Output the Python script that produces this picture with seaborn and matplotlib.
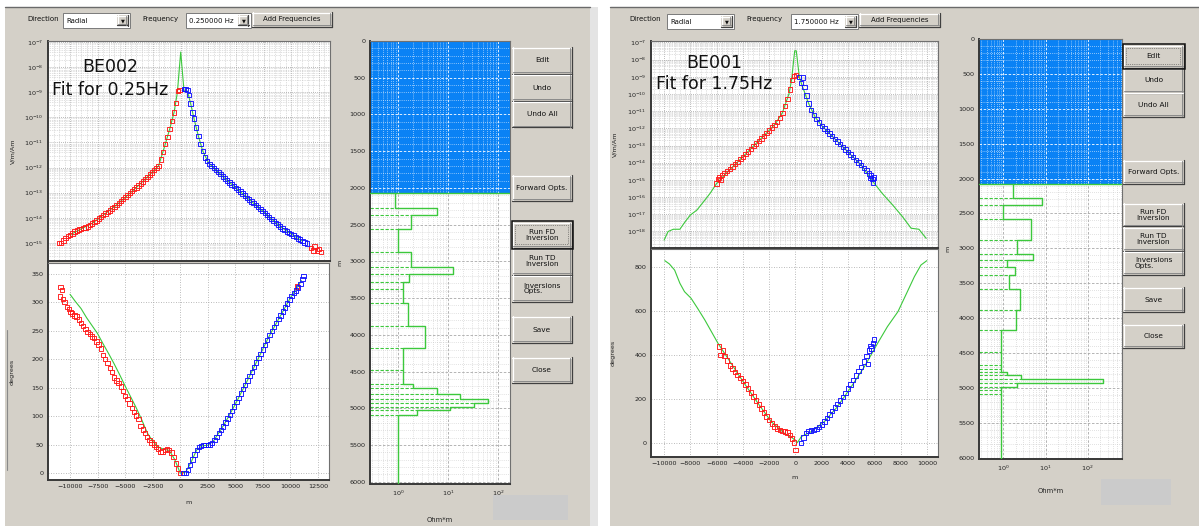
import numpy as np
import matplotlib
matplotlib.use("Agg")
import matplotlib.pyplot as plt
import seaborn as sns
from matplotlib.patches import Rectangle
from matplotlib.lines import Line2D
from matplotlib.ticker import (MultipleLocator, AutoMinorLocator, LogLocator,
                               LogFormatterSciNotation, NullFormatter)

# ======================= DATA =======================
# ---- BE002, 0.25 Hz (left window) ----
# amplitude: (offset m, log10 V/m/Am)
be002_amp_red = [(-11000, -15.0), (-10800, -15.0), (-10600, -14.9), (-10400, -14.8), (-10200, -14.72),
                 (-10000, -14.68), (-9800, -14.62), (-9600, -14.55), (-9400, -14.5), (-9200, -14.47),
                 (-9000, -14.44), (-8800, -14.41), (-8600, -14.38), (-8400, -14.34), (-8200, -14.28),
                 (-8000, -14.22), (-7800, -14.16), (-7600, -14.1), (-7400, -14.03), (-7200, -13.96),
                 (-7000, -13.89), (-6800, -13.83), (-6600, -13.77), (-6400, -13.71), (-6200, -13.63),
                 (-6000, -13.56), (-5800, -13.48), (-5600, -13.41), (-5400, -13.33), (-5200, -13.26),
                 (-5000, -13.18), (-4800, -13.1), (-4600, -13.02), (-4400, -12.94), (-4200, -12.86),
                 (-4000, -12.79), (-3800, -12.72), (-3600, -12.64), (-3400, -12.55), (-3200, -12.46),
                 (-3000, -12.37), (-2800, -12.28), (-2600, -12.19), (-2400, -12.1), (-2200, -12.02),
                 (-2000, -11.93), (-1800, -11.68), (-1600, -11.38), (-1400, -11.05), (-1200, -10.78),
                 (-1000, -10.47), (-800, -10.15), (-600, -9.8), (-400, -9.42), (-250, -8.95), (-100, -8.9),
                 (11800, -15.2), (12000, -15.3), (12100, -15.15), (12300, -15.3), (12500, -15.25), (12700, -15.35)]
be002_amp_blue = [(300, -8.88), (450, -8.87), (600, -8.9), (750, -9.1), (900, -9.45), (1050, -9.8),
                  (1200, -10.05), (1400, -10.4), (1600, -10.75), (1800, -11.05), (2000, -11.35), (2200, -11.6),
                  (2400, -11.75), (2600, -11.85), (2800, -11.93), (3000, -12.02), (3200, -12.1), (3400, -12.17),
                  (3600, -12.26), (3800, -12.35), (4000, -12.44), (4200, -12.52), (4400, -12.6), (4600, -12.67),
                  (4800, -12.74), (5000, -12.81), (5200, -12.88), (5400, -12.95), (5600, -13.03), (5800, -13.11),
                  (6000, -13.2), (6200, -13.27), (6400, -13.35), (6600, -13.42), (6800, -13.5), (7000, -13.57),
                  (7200, -13.65), (7400, -13.72), (7600, -13.8), (7800, -13.88), (8000, -13.96), (8200, -14.04),
                  (8400, -14.12), (8600, -14.2), (8800, -14.27), (9000, -14.35), (9200, -14.42), (9400, -14.48),
                  (9600, -14.54), (9800, -14.6), (10000, -14.65), (10200, -14.7), (10400, -14.76), (10600, -14.82),
                  (10800, -14.87), (11000, -14.93), (11200, -14.98), (11400, -15.02)]
be002_amp_fit = [(-10000, -14.68), (-9000, -14.44), (-8000, -14.22), (-7000, -13.89), (-6000, -13.56),
                 (-5000, -13.18), (-4000, -12.79), (-3000, -12.37), (-2000, -11.93), (-1500, -11.22),
                 (-1000, -10.47), (-600, -9.8), (-300, -9.0), (0, -7.4), (300, -8.95), (600, -8.95),
                 (900, -9.45), (1200, -10.05), (1600, -10.75), (2000, -11.35), (2500, -11.8), (3000, -12.02),
                 (4000, -12.44), (5000, -12.81), (6000, -13.2), (7000, -13.57), (8000, -13.96), (9000, -14.35),
                 (10000, -14.65), (11000, -14.93)]
# phase: (offset m, degrees)
be002_phase_red = [(-10900, 310), (-10850, 327), (-10750, 322), (-10650, 306), (-10500, 300), (-10250, 292),
                   (-10100, 288), (-9950, 283), (-9800, 280), (-9600, 277), (-9400, 275), (-9200, 270),
                   (-9000, 264), (-8800, 258), (-8600, 253), (-8400, 248), (-8200, 244), (-8000, 240),
                   (-7800, 237), (-7600, 231), (-7400, 226), (-7200, 219), (-7000, 208), (-6800, 200),
                   (-6600, 193), (-6400, 185), (-6200, 178), (-6000, 168), (-5800, 163), (-5600, 158),
                   (-5400, 152), (-5200, 144), (-5000, 136), (-4800, 130), (-4600, 122), (-4400, 114),
                   (-4200, 107), (-4000, 101), (-3800, 95), (-3600, 83), (-3400, 77), (-3200, 70),
                   (-3000, 64), (-2800, 58), (-2600, 54), (-2400, 50), (-2200, 46), (-2000, 42),
                   (-1800, 37), (-1600, 38), (-1400, 41), (-1200, 42), (-1000, 41), (-800, 36),
                   (-600, 28), (-400, 17), (-200, 8), (0, 0), (10600, 328)]
be002_phase_blue = [(300, 0), (500, 0), (700, 6), (900, 14), (1100, 24), (1300, 33), (1500, 41), (1700, 46),
                    (1900, 48), (2100, 49), (2300, 49), (2500, 49), (2700, 50), (2900, 53), (3100, 58),
                    (3300, 63), (3500, 70), (3700, 76), (3900, 82), (4100, 89), (4300, 96), (4500, 102),
                    (4700, 109), (4900, 117), (5100, 125), (5300, 132), (5500, 140), (5700, 148), (5900, 155),
                    (6100, 163), (6300, 171), (6500, 178), (6700, 186), (6900, 194), (7100, 202), (7300, 209),
                    (7500, 217), (7700, 225), (7900, 234), (8100, 243), (8300, 250), (8500, 257), (8700, 264),
                    (8900, 271), (9100, 277), (9300, 284), (9500, 291), (9700, 298), (9900, 305), (10100, 311),
                    (10300, 316), (10500, 321), (10700, 326), (10900, 332), (11100, 341), (11200, 346)]
be002_phase_fit = [(-10000, 314), (-9500, 301), (-9000, 289), (-8500, 273), (-8000, 259), (-7500, 245),
                   (-7000, 227), (-6500, 210), (-6000, 192), (-5500, 173), (-5000, 153), (-4500, 134),
                   (-4000, 115), (-3500, 94), (-3000, 71), (-2500, 56), (-2000, 46), (-1500, 42), (-1000, 40),
                   (-500, 24), (0, 0), (500, 2), (1000, 20), (1500, 41), (2000, 48), (2500, 49), (3000, 56),
                   (4000, 86), (5000, 121), (6000, 159), (7000, 198), (8000, 238), (9000, 273), (10000, 308),
                   (11000, 338)]
# resistivity model: layer top depth (m) and resistivity (Ohm*m)
be002_layer_top = [2070, 2270, 2375, 2565, 2875, 3070, 3175, 3280, 3370, 3560, 3880, 4185, 4475,
                   4670, 4730, 4805, 4875, 4925, 4985, 5020, 5090]
be002_layer_rho = [0.86, 5.9, 1.8, 1.0, 1.8, 12.6, 1.64, 1.22, 1.22, 1.58, 3.4, 1.22, 1.22,
                   2.0, 5.9, 17.2, 63.0, 32.7, 10.8, 2.33, 1.0]

# ---- BE001, 1.75 Hz (right window) ----
be001_amp_red = [(-6000, -15.2), (-5900, -14.95), (-5800, -14.85), (-5700, -15.0), (-5600, -14.72),
                 (-5400, -14.6), (-5200, -14.48), (-5000, -14.35), (-4800, -14.22), (-4600, -14.09),
                 (-4400, -13.95), (-4200, -13.8), (-4000, -13.65), (-3800, -13.5), (-3600, -13.35),
                 (-3400, -13.2), (-3200, -13.04), (-3000, -12.88), (-2800, -12.73), (-2600, -12.58),
                 (-2400, -12.43), (-2200, -12.27), (-2000, -12.12), (-1800, -11.96), (-1600, -11.8),
                 (-1400, -11.62), (-1200, -11.4), (-1000, -11.1), (-800, -10.7), (-600, -10.3),
                 (-400, -9.75), (-250, -9.2), (-100, -8.95), (50, -8.9)]
be001_amp_blue = [(250, -9.0), (400, -9.35), (550, -9.05), (700, -9.6), (850, -10.1), (1000, -10.55),
                  (1200, -10.95), (1400, -11.22), (1600, -11.45), (1800, -11.65), (2000, -11.85), (2200, -12.0),
                  (2400, -12.15), (2600, -12.3), (2800, -12.46), (3000, -12.61), (3200, -12.77), (3400, -12.92),
                  (3600, -13.07), (3800, -13.22), (4000, -13.38), (4200, -13.53), (4400, -13.68), (4600, -13.83),
                  (4800, -13.98), (5000, -14.13), (5200, -14.3), (5400, -14.45), (5600, -14.62), (5700, -14.9),
                  (5750, -14.75), (5850, -14.95), (5900, -15.15), (6000, -14.85)]
be001_amp_fit = [(-10000, -18.5), (-9700, -18.0), (-9300, -17.87), (-8800, -17.87), (-8400, -17.43),
                 (-8000, -17.04), (-7500, -16.75), (-7000, -16.27), (-6500, -15.78), (-6000, -15.2),
                 (-5000, -14.4), (-4000, -13.65), (-3000, -12.88), (-2000, -12.12), (-1500, -11.7),
                 (-1000, -11.1), (-500, -10.0), (-300, -9.2), (-60, -7.49), (60, -7.49), (300, -9.05),
                 (500, -9.5), (1000, -10.55), (1500, -11.35), (2000, -11.85), (3000, -12.61), (4000, -13.38),
                 (5000, -14.13), (5900, -15.1), (6600, -15.78), (7400, -16.46), (8150, -17.14), (8800, -17.81),
                 (9400, -17.87), (9950, -18.4)]
be001_phase_red = [(-5800, 438), (-5700, 400), (-5500, 420), (-5400, 395), (-5200, 375), (-5000, 352),
                   (-4800, 338), (-4600, 322), (-4400, 308), (-4200, 296), (-4000, 283), (-3800, 265),
                   (-3600, 247), (-3400, 229), (-3200, 211), (-3000, 193), (-2800, 175), (-2600, 157),
                   (-2400, 139), (-2200, 121), (-2000, 104), (-1800, 89), (-1600, 75), (-1400, 66),
                   (-1200, 59), (-1000, 55), (-800, 52), (-600, 48), (-400, 37), (-250, 20), (-120, 2), (0, -32)]
be001_phase_blue = [(400, 0), (600, 25), (800, 45), (1000, 53), (1200, 57), (1400, 60), (1600, 64),
                    (1800, 72), (2000, 84), (2200, 98), (2400, 114), (2600, 129), (2800, 145), (3000, 161),
                    (3200, 177), (3400, 193), (3600, 210), (3800, 228), (4000, 247), (4200, 266), (4400, 286),
                    (4600, 306), (4800, 326), (5000, 346), (5200, 370), (5400, 395), (5500, 360), (5600, 420),
                    (5700, 440), (5800, 430), (5900, 455), (6000, 470)]
be001_phase_fit = [(-9950, 829), (-9600, 814), (-9200, 786), (-8800, 726), (-8450, 688), (-7950, 658),
                   (-7450, 612), (-6900, 559), (-6400, 506), (-5900, 453), (-4900, 362), (-3900, 271),
                   (-2850, 180), (-1850, 97), (-850, 44), (-200, 21), (150, 2), (450, 29), (1200, 51),
                   (2200, 97), (3200, 165), (4250, 256), (5250, 347), (6250, 453), (7000, 529), (7800, 597),
                   (8400, 673), (9050, 756), (9550, 809), (10000, 829)]
be001_layer_top = [2080, 2285, 2380, 2585, 2885, 3075, 3170, 3275, 3385, 3580, 3890, 4175, 4485,
                   4675, 4725, 4770, 4820, 4880, 4930, 4990, 5035, 5085]
be001_layer_rho = [1.67, 8.4, 1.0, 4.5, 2.14, 4.96, 1.24, 1.89, 1.36, 2.48, 2.0, 0.88, 0.88,
                   0.88, 0.88, 1.2, 2.63, 226.0, 2.14, 0.88, 0.88, 0.88]

# text
labels_left = {"site": "BE002", "fit": "Fit for 0.25Hz", "freq": "0.250000 Hz"}
labels_right = {"site": "BE001", "fit": "Fit for 1.75Hz", "freq": "1.750000 Hz"}

# ======================= STYLE / LAYOUT =======================
W, H = 1199, 526
BG = "#d4d0c8"
RED = "#ff1a1a"
BLUE = "#1414ff"
GREEN = "#3cc83c"
FILL = "#0a82f5"
TICK_FS = 4.6

sns.set_theme(style="white")
plt.rcParams["font.family"] = ["DejaVu Sans"]
plt.rcParams["mathtext.default"] = "regular"

fig = plt.figure(figsize=(W / 100, H / 100), dpi=100, facecolor="white")


def frect(x0, y0, x1, y1):
    return [x0 / W, 1 - y1 / H, (x1 - x0) / W, (y1 - y0) / H]


def box(x0, y0, x1, y1, fc, ec="none", lw=0.0, z=-5, ls="-"):
    fig.add_artist(Rectangle((x0 / W, 1 - y1 / H), (x1 - x0) / W, (y1 - y0) / H,
                             transform=fig.transFigure, facecolor=fc, edgecolor=ec,
                             linewidth=lw, zorder=z, linestyle=ls))


def fline(xs, ys, color, lw=0.8, z=2):
    fig.add_artist(Line2D([x / W for x in xs], [1 - y / H for y in ys],
                          transform=fig.transFigure, color=color, linewidth=lw, zorder=z))


def ftext(x, y, s, **kw):
    kw.setdefault("fontsize", 5.2)
    kw.setdefault("color", "#111111")
    fig.text(x / W, 1 - y / H, s, **kw)


def button(x0, y0, x1, y1, label, focused=False, align="center", fs=5.3):
    box(x0, y0, x1, y1, BG, z=1)
    fline([x0, x1], [y0 + 0.5, y0 + 0.5], "white", 0.9, 2)
    fline([x0 + 0.5, x0 + 0.5], [y0, y1], "white", 0.9, 2)
    fline([x0, x1], [y1 - 0.5, y1 - 0.5], "#404040", 0.9, 2)
    fline([x1 - 0.5, x1 - 0.5], [y0, y1], "#404040", 0.9, 2)
    fline([x0 + 1, x1 - 1.5], [y1 - 1.7, y1 - 1.7], "#8a8a8a", 0.7, 2)
    fline([x1 - 1.7, x1 - 1.7], [y0 + 1, y1 - 1.5], "#8a8a8a", 0.7, 2)
    if focused:
        box(x0 - 0.5, y0 - 0.5, x1 + 0.5, y1 + 0.5, "none", ec="#101010", lw=1.1, z=3)
        box(x0 + 3, y0 + 3, x1 - 4, y1 - 4, "none", ec="#404040", lw=0.5, z=3, ls=":")
    if label:
        ftext((x0 + x1) / 2, (y0 + y1) / 2, label, ha="center", va="center",
              fontsize=fs, multialignment=align, zorder=4, linespacing=1.0)


def dropdown(x0, y0, x1, y1, label):
    box(x0, y0, x1, y1, "white", ec="#7a7a7a", lw=0.7, z=1)
    button(x1 - 13, y0 + 2, x1 - 2, y1 - 2, "")
    ftext(x1 - 7.5, (y0 + y1) / 2 + 0.5, "\u25BC", ha="center", va="center", fontsize=3.6, zorder=5)
    ftext(x0 + 3, (y0 + y1) / 2 + 0.5, label, ha="left", va="center", fontsize=5.0, zorder=5)


def style_axes(ax):
    ax.set_facecolor("white")
    for s in ax.spines.values():
        s.set_color("#707070")
        s.set_linewidth(0.8)
    for side in ("left", "bottom"):
        ax.spines[side].set_color("#383838")
        ax.spines[side].set_linewidth(1.4)
    ax.tick_params(which="both", direction="out", labelsize=TICK_FS, width=0.6,
                   color="#333333", labelcolor="#222222", pad=1)
    ax.tick_params(which="major", length=2.2)
    ax.tick_params(which="minor", length=0)


def unzip(pairs):
    return np.array([p[0] for p in pairs], float), np.array([p[1] for p in pairs], float)


def draw_points(ax, pairs, color, log=False):
    x, y = unzip(pairs)
    if log:
        y = 10.0 ** y
    sns.scatterplot(x=x, y=y, ax=ax, marker="s", s=10, facecolor="none",
                    edgecolor=color, linewidth=0.65, zorder=4, legend=False)


def draw_fit(ax, pairs, log=False):
    x, y = unzip(pairs)
    if log:
        y = 10.0 ** y
    sns.lineplot(x=x, y=y, ax=ax, color=GREEN, linewidth=0.8, sort=False,
                 estimator=None, zorder=3, legend=False)


def amp_panel(px, red, blue, fit, xlim, yexp, xmajor, lab_x):
    ax = fig.add_axes(frect(*px))
    style_axes(ax)
    ax.set_yscale("log")
    draw_fit(ax, fit, log=True)
    draw_points(ax, red, RED, log=True)
    draw_points(ax, blue, BLUE, log=True)
    ax.set_xlim(*xlim)
    ax.set_ylim(10.0 ** yexp[0], 10.0 ** yexp[1])
    ax.yaxis.set_major_locator(LogLocator(base=10, numticks=40))
    ax.yaxis.set_minor_locator(LogLocator(base=10, subs=np.arange(2, 10), numticks=40))
    ax.yaxis.set_major_formatter(LogFormatterSciNotation())
    ax.yaxis.set_minor_formatter(NullFormatter())
    ax.xaxis.set_major_locator(MultipleLocator(xmajor))
    ax.xaxis.set_minor_locator(AutoMinorLocator(5))
    ax.xaxis.set_major_formatter(NullFormatter())
    ax.tick_params(axis="x", which="both", labelbottom=False, length=0)
    ax.grid(which="major", color="#a4a4a4", linestyle=(0, (1, 1.5)), linewidth=0.6)
    ax.grid(which="minor", color="#c2c2c2", linestyle=(0, (1, 1.5)), linewidth=0.5)
    ax.set_axisbelow(True)
    ax.set_xlabel("")
    ax.set_ylabel("V/m/Am", fontsize=TICK_FS, color="#222222")
    ax.yaxis.set_label_coords(lab_x, 0.5)
    return ax


def phase_panel(px, red, blue, fit, xlim, ylim, xmajor, ymajor, lab_x, xlab_y):
    ax = fig.add_axes(frect(*px))
    style_axes(ax)
    draw_fit(ax, fit)
    draw_points(ax, red, RED)
    draw_points(ax, blue, BLUE)
    ax.set_xlim(*xlim)
    ax.set_ylim(*ylim)
    ax.xaxis.set_major_locator(MultipleLocator(xmajor))
    ax.yaxis.set_major_locator(MultipleLocator(ymajor))
    ax.grid(which="major", color="#a4a4a4", linestyle=(0, (1, 2)), linewidth=0.6)
    ax.set_axisbelow(True)
    ax.set_xlabel("m", fontsize=TICK_FS, color="#222222")
    ax.xaxis.set_label_coords(0.5, xlab_y)
    ax.set_ylabel("degrees", fontsize=TICK_FS, color="#222222")
    ax.yaxis.set_label_coords(lab_x, 0.5)
    return ax


def depth_panel(px, tops, rho, xlim, ylim, xlab_y):
    ax = fig.add_axes(frect(*px))
    style_axes(ax)
    ax.set_xscale("log")
    ax.set_xlim(*xlim)
    ax.set_ylim(*ylim)
    model_top = tops[0]
    bottoms = list(tops[1:]) + [ylim[0]]
    xs, ys = [], []
    for t, b, r in zip(tops, bottoms, rho):
        xs += [r, r]
        ys += [t, b]
    ax.axhspan(0, model_top, color=FILL, zorder=1.5, linewidth=0)
    ax.xaxis.set_major_locator(LogLocator(base=10, numticks=10))
    ax.xaxis.set_minor_locator(LogLocator(base=10, subs=np.arange(2, 10), numticks=10))
    ax.xaxis.set_major_formatter(LogFormatterSciNotation())
    ax.xaxis.set_minor_formatter(NullFormatter())
    ax.yaxis.set_major_locator(MultipleLocator(500))
    ax.yaxis.set_minor_locator(MultipleLocator(100))
    ax.tick_params(axis="x", which="minor", length=1.5)
    ax.grid(which="major", color="#a8a8a8", linestyle=(0, (3, 2)), linewidth=0.6)
    ax.grid(which="minor", color="#c6c6c6", linestyle=(0, (1, 2)), linewidth=0.5)
    ax.set_axisbelow(True)
    # white dotted grid over the fixed (blue) part
    xmaj = [v for v in ax.xaxis.get_majorticklocs() if xlim[0] < v < xlim[1]]
    xmin_ = [v for v in ax.xaxis.get_minorticklocs() if xlim[0] < v < xlim[1]]
    ax.vlines(xmin_, 0, model_top, colors="white", linestyles=(0, (1, 2)), linewidth=0.5, zorder=1.6)
    ax.vlines(xmaj, 0, model_top, colors="white", linestyles=(0, (3, 2)), linewidth=0.6, zorder=1.6)
    ymin_ = [v for v in ax.yaxis.get_minorticklocs() if 0 < v < model_top]
    ymaj = [v for v in ax.yaxis.get_majorticklocs() if 0 < v < model_top]
    ax.hlines(ymin_, xlim[0], xlim[1], colors="white", linestyles=(0, (1, 2)), linewidth=0.5, zorder=1.6)
    ax.hlines(ymaj, xlim[0], xlim[1], colors="white", linestyles=(0, (3, 2)), linewidth=0.6, zorder=1.6)
    # layer boundaries (dashed) and model line
    rho_arr = np.array(rho)
    ax.hlines(tops[1:], xlim[0], np.minimum(rho_arr[:-1], rho_arr[1:]), colors=GREEN,
              linestyles=(0, (3, 1.5)), linewidth=0.8, zorder=2.5)
    ax.axhline(model_top, color=GREEN, linewidth=1.0, zorder=3)
    sns.lineplot(x=xs, y=ys, ax=ax, color=GREEN, linewidth=1.0, sort=False,
                 estimator=None, zorder=3, legend=False)
    ax.set_xlim(*xlim)
    ax.set_ylim(*ylim)
    ax.set_xlabel("Ohm*m", fontsize=TICK_FS + 0.3, color="#222222")
    ax.xaxis.set_label_coords(0.5, xlab_y)
    ax.set_ylabel("m", fontsize=TICK_FS, color="#222222")
    ax.yaxis.set_label_coords(-0.2, 0.5)
    return ax


# ======================= WINDOWS =======================
box(5, 7, 590, 526, BG, z=-5)
box(590, 7, 598, 526, "#e4e4e4", z=-5)
box(610, 7, 1199, 526, BG, z=-5)
fline([5, 590], [7, 7], "#6a6a6a", 1.0, -4)
fline([610, 1199], [7, 7], "#6a6a6a", 1.0, -4)
fline([6.5, 6.5], [330, 470], "#8a8a8a", 0.8, -4)

# ---- left window ----
ftext(27, 19, "Direction", ha="left", va="center", fontsize=5.0)
dropdown(63, 13, 130, 28, "Radial")
ftext(142, 19, "Frequency", ha="left", va="center", fontsize=5.0)
dropdown(186, 13, 251, 28, labels_left["freq"])
button(252, 12, 332, 27, "Add Frequencies", fs=5.0)

amp_panel((48, 41, 330, 261), be002_amp_red, be002_amp_blue, be002_amp_fit,
          (-12000, 13500), (-15.72, -6.96), 2500, -0.117)
phase_panel((48, 263, 329, 480), be002_phase_red, be002_phase_blue, be002_phase_fit,
            (-12000, 13500), (-12, 369), 2500, 50, -0.117, -0.09)
depth_panel((370, 41, 510, 484), be002_layer_top, be002_layer_rho, (0.27, 175), (6030, 0), -0.075)

ftext(110, 67, labels_left["site"], ha="center", va="center", fontsize=12.5, zorder=6)
ftext(110, 90, labels_left["fit"], ha="center", va="center", fontsize=12.5, zorder=6)

button(512, 47, 572, 74, "Edit")
button(512, 74, 572, 101, "Undo")
button(512, 101, 572, 128, "Undo All")
button(512, 175, 572, 201, "Forward Opts.")
button(512, 222, 572, 248, "Run FD\nInversion", focused=True)
button(512, 248, 572, 275, "Run TD\nInversion")
button(512, 275, 572, 302, "Inversions\nOpts.", align="left")
button(512, 316, 572, 343, "Save")
button(512, 357, 572, 383, "Close")
box(493, 495, 568, 520, "#cbcbcb", z=1)

# ---- right window ----
ftext(629, 19, "Direction", ha="left", va="center", fontsize=5.0)
dropdown(667, 14, 734, 29, "Radial")
ftext(746, 19, "Frequency", ha="left", va="center", fontsize=5.0)
dropdown(791, 14, 858, 29, labels_right["freq"])
button(859, 13, 940, 27, "Add Frequencies", fs=5.0)

amp_panel((651, 41, 938, 248), be001_amp_red, be001_amp_blue, be001_amp_fit,
          (-11000, 10850), (-18.96, -6.92), 2000, -0.118)
phase_panel((651, 249, 938, 457), be001_phase_red, be001_phase_blue, be001_phase_fit,
            (-11000, 10850), (-64, 882), 2000, 200, -0.122, -0.085)
depth_panel((979, 39, 1122, 459), be001_layer_top, be001_layer_rho, (0.265, 650), (6020, 0), -0.07)

ftext(714, 63, labels_right["site"], ha="center", va="center", fontsize=12.5, zorder=6)
ftext(714, 84, labels_right["fit"], ha="center", va="center", fontsize=12.5, zorder=6)

button(1123, 45, 1184, 68, "Edit", focused=True)
button(1123, 68, 1184, 93, "Undo")
button(1123, 93, 1184, 117, "Undo All")
button(1123, 160, 1184, 184, "Forward Opts.")
button(1123, 203, 1184, 227, "Run FD\nInversion")
button(1123, 227, 1184, 251, "Run TD\nInversion")
button(1123, 251, 1184, 275, "Inversions\nOpts.", align="left")
button(1123, 287, 1184, 312, "Save")
button(1123, 324, 1184, 348, "Close")
box(1101, 479, 1171, 505, "#cbcbcb", z=1)

fig.savefig("out.png", dpi=100, facecolor="white")
